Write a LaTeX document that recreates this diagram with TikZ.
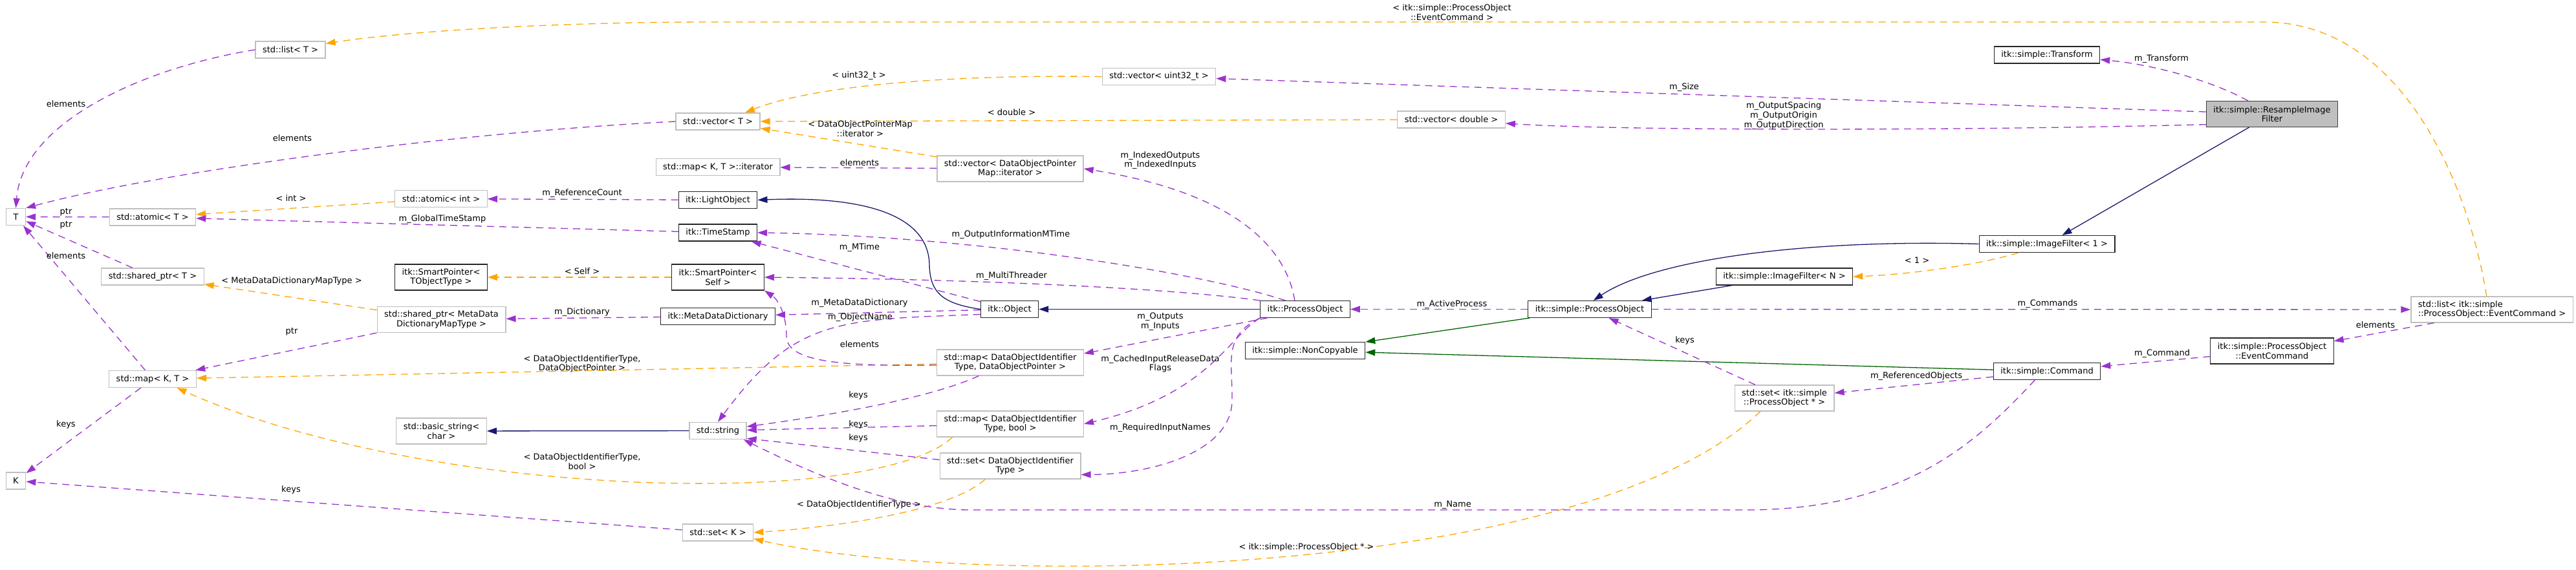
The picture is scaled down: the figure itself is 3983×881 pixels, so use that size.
\documentclass[tikz,border=0pt]{standalone}
\usepackage{fontspec}
\setmainfont{DejaVu Sans}
\usetikzlibrary{arrows.meta}
\definecolor{memcol}{HTML}{9A32CD}
\definecolor{tplcol}{HTML}{FFA500}
\definecolor{pubcol}{HTML}{191970}
\definecolor{protcol}{HTML}{006400}
\definecolor{tplbox}{HTML}{BFBFBF}
\definecolor{mainbox}{HTML}{404040}
\begin{document}
\begin{tikzpicture}[x=1pt,y=-1pt,
    every node/.style={font=\fontsize{13}{14.7}\selectfont},
    cls/.style={draw=black!85, fill=white, line width=1.1pt, inner xsep=11pt, inner ysep=3pt, minimum height=26pt, align=center},
    tpl/.style={cls, draw=tplbox, line width=1.3pt},
    two/.style={minimum height=40pt},
    lbl/.style={inner sep=0pt, align=center},
    mem/.style={draw=memcol, line width=1.3pt, dash pattern=on 11pt off 8pt, -{Triangle[length=15pt,width=10pt]}},
    tmpl/.style={mem, draw=tplcol},
    pub/.style={draw=pubcol, line width=1.3pt, -{Triangle[length=15pt,width=10pt]}},
    prot/.style={pub, draw=protcol}]
    \path[use as bounding box, fill=white] (0,0) rectangle (3983,881);

    \node[tpl] (T) at (24.5,335.5) {T};
    \node[tpl] (K) at (24.5,744) {K};
    \node[tpl] (listT) at (449,77) {std::list< T >};
    \node[tpl] (atomicT) at (236,336) {std::atomic< T >};
    \node[tpl] (sharedT) at (236,428) {std::shared\_ptr< T >};
    \node[tpl] (mapKT) at (236,586.5) {std::map< K, T >};
    \node[tpl] (atomicInt) at (682,307.5) {std::atomic< int >};
    \node[cls,two] (spTObj) at (682,429) {itk::SmartPointer<\\TObjectType >};
    \node[tpl,two] (sharedMeta) at (682.5,494.5) {std::shared\_ptr< MetaData\\DictionaryMapType >};
    \node[tpl,two] (basicStr) at (682.5,667) {std::basic\_string<\\char >};
    \node[tpl] (vecT) at (1110,188) {std::vector< T >};
    \node[tpl] (mapIter) at (1110,258.5) {std::map< K, T >::iterator};
    \node[cls] (lightObj) at (1110,309.5) {itk::LightObject};
    \node[cls] (timeStamp) at (1110,360) {itk::TimeStamp};
    \node[cls,two] (spSelf) at (1110,429) {itk::SmartPointer<\\Self >};
    \node[cls] (metaDict) at (1110,489.5) {itk::MetaDataDictionary};
    \node[tpl] (stdString) at (1110,666.5) {std::string};
    \node[tpl] (setK) at (1110,824) {std::set< K >};
    \node[tpl] (vecU32) at (1792,118.5) {std::vector< uint32\_t >};
    \node[tpl,two] (vecDOPM) at (1562,261) {std::vector< DataObjectPointer\\Map::iterator >};
    \node[cls] (itkObject) at (1561,478.5) {itk::Object};
    \node[tpl,two] (mapDOP) at (1562,561) {std::map< DataObjectIdentifier\\Type, DataObjectPointer >};
    \node[tpl,two] (mapBool) at (1562,656) {std::map< DataObjectIdentifier\\Type, bool >};
    \node[tpl,two] (setDOI) at (1562,721) {std::set< DataObjectIdentifier\\Type >};
    \node[tpl] (vecDouble) at (2244,185) {std::vector< double >};
    \node[cls] (itkPO) at (2018,478.5) {itk::ProcessObject};
    \node[cls] (nonCopy) at (2018,542.5) {itk::simple::NonCopyable};
    \node[cls] (simplePO) at (2458,478.5) {itk::simple::ProcessObject};
    \node[tpl,two] (setPO) at (2759,616) {std::set< itk::simple\\::ProcessObject * >};
    \node[cls] (filterN) at (2759,428) {itk::simple::ImageFilter< N >};
    \node[cls] (filter1) at (3165,377.5) {itk::simple::ImageFilter< 1 >};
    \node[cls] (transform) at (3165,85) {itk::simple::Transform};
    \node[cls] (command) at (3165,574.5) {itk::simple::Command};
    \node[cls,two,fill=tplbox,draw=mainbox] (resample) at (3513,176.5) {itk::simple::ResampleImage\\Filter};
    \node[cls,two] (eventCmd) at (3513,543) {itk::simple::ProcessObject\\::EventCommand};
    \node[tpl,two,align=left] (listEC) at (3853,479) {std::list< itk::simple\\::ProcessObject::EventCommand >};

    \draw[mem] (listT.west) .. controls (220,105) and (35,190) .. (T.north);
    \draw[mem] (vecT.west) .. controls (700,205) and (250,265) .. (T.north east);
    \draw[mem] (atomicT) -- (T);
    \draw[mem] (sharedT) -- (T);
    \draw[mem] (mapKT) -- (T);
    \draw[mem] (mapKT) -- (K);
    \draw[mem] (setK) -- (K);
    \draw[tmpl] (atomicInt) -- (atomicT);
    \draw[mem] (timeStamp) -- (atomicT);
    \draw[mem] (lightObj) -- (atomicInt);
    \draw[tmpl] (sharedMeta) -- (sharedT);
    \draw[mem] (sharedMeta) -- (mapKT);
    \draw[tmpl] (mapDOP) -- (mapKT);
    \draw[tmpl] (mapBool.193) .. controls (1350,790) and (650,770) .. (mapKT.340);
    \draw[tmpl] (spSelf) -- (spTObj);
    \draw[mem] (metaDict) -- (sharedMeta);
    \draw[pub] (stdString) -- (basicStr);
    \draw[tmpl] (setDOI.208) .. controls (1470,790) and (1300,815) .. (setK.east);
    \draw[tmpl] (setPO.209) .. controls (2450,900) and (1500,910) .. (setK.350);
    \draw[tmpl] (vecU32.west) .. controls (1450,115) and (1250,135) .. (vecT.18);
    \draw[tmpl] (vecDouble) -- (vecT);
    \draw[tmpl] (vecDOPM) -- (vecT);
    \draw[mem] (vecDOPM) -- (mapIter);
    \draw[pub] (itkObject.west) .. controls (1460,470) and (1438,455) .. (1437,410)
        .. controls (1436,330) and (1330,303) .. (lightObj.east);
    \draw[mem] (itkObject) -- (timeStamp);
    \draw[mem] (itkObject) -- (metaDict);
    \draw[mem] (itkObject.190) .. controls (1300,495) and (1230,490) .. (stdString.north);
    \draw[mem] (mapDOP.182) .. controls (1300,567) and (1216,560) .. (1216,520)
        .. controls (1216,490) and (1205,465) .. (spSelf.south east);
    \draw[pub] (itkPO) -- (itkObject);
    \draw[mem] (itkPO.156) .. controls (1850,420) and (1500,365) .. (timeStamp.east);
    \draw[mem] (itkPO.north west) .. controls (1800,445) and (1500,432) .. (spSelf.east);
    \draw[mem] (itkPO.140) .. controls (1990,390) and (1920,300) .. (vecDOPM.east);
    \draw[mem] (itkPO.193) -- (mapDOP.7);
    \draw[mem] (itkPO.191) .. controls (1900,520) and (1870,610) .. (mapBool.east);
    \draw[mem] (itkPO.191) .. controls (1890,520) and (1906,560) .. (1905,620)
        .. controls (1904,700) and (1780,734) .. (setDOI.353);
    \draw[mem] (simplePO) -- (itkPO);
    \draw[prot] (simplePO) -- (nonCopy);
    \draw[prot] (command) -- (nonCopy);
    \draw[pub] (filter1.west) .. controls (2800,370) and (2560,400) .. (simplePO.67);
    \draw[pub] (filterN) -- (simplePO);
    \draw[pub] (resample) -- (filter1);
    \draw[tmpl] (filter1.197) .. controls (3060,410) and (2950,425) .. (filterN.east);
    \draw[mem] (resample.151) .. controls (3420,125) and (3330,100) .. (transform.355);
    \draw[mem] (resample) -- (vecU32);
    \draw[mem] (resample.189) .. controls (3000,203) and (2500,202) .. (vecDouble.356);
    \draw[mem] (simplePO) -- (listEC);
    \draw[tmpl] (listEC.112) .. controls (3820,300) and (3720,34) .. (3500,34) -- (1100,34)
        .. controls (900,34) and (650,45) .. (listT.10);
    \draw[mem] (listEC.193) -- (eventCmd.9);
    \draw[mem] (eventCmd) -- (command);
    \draw[mem] (command) -- (setPO);
    \draw[mem] (setPO) -- (simplePO);
    \draw[mem] (command.216) .. controls (3060,680) and (2950,789) .. (2700,789) -- (1500,789)
        .. controls (1380,789) and (1250,730) .. (stdString.341);
    \draw[mem] (mapDOP.203) .. controls (1440,615) and (1300,640) .. (stdString.8);
    \draw[mem] (mapBool) -- (stdString);
    \draw[mem] (setDOI.175) -- (stdString.345);

    \node[lbl] (lbElem1) at (102,161) {elements};
    \node[lbl] (lbElem2) at (452,214) {elements};
    \node[lbl] (lbPtr1) at (102,328) {ptr};
    \node[lbl] (lbPtr2) at (102,348) {ptr};
    \node[lbl] (lbElem3) at (102,396) {elements};
    \node[lbl] (lbInt) at (450,307) {< int >};
    \node[lbl] (lbMapType) at (451,435) {< MetaDataDictionaryMapType >};
    \node[lbl] (lbGlobal) at (684,339) {m\_GlobalTimeStamp};
    \node[lbl] (lbRefCount) at (900,299) {m\_ReferenceCount};
    \node[lbl] (lbSelf) at (900,420) {< Self >};
    \node[lbl] (lbU32) at (1328,117) {< uint32\_t >};
    \node[lbl] (lbIter) at (1330,199) {< DataObjectPointerMap\\::iterator >};
    \node[lbl] (lbElem4) at (1329,252) {elements};
    \node[lbl] (lbMTime) at (1329,383) {m\_MTime};
    \node[lbl] (lbDouble) at (1564,174) {< double >};
    \node[lbl] (lbIndexed) at (1794,248) {m\_IndexedOutputs\\m\_IndexedInputs};
    \node[lbl] (lbOutInfo) at (1563,363) {m\_OutputInformationMTime};
    \node[lbl] (lbThreader) at (1564,427) {m\_MultiThreader};
    \node[lbl] (lbEvCmd) at (2245,19) {< itk::simple::ProcessObject\\::EventCommand >};
    \node[lbl] (lbSize) at (2604,135) {m\_Size};
    \node[lbl] (lbOutput) at (2758,179) {m\_OutputSpacing\\m\_OutputOrigin\\m\_OutputDirection};
    \node[lbl] (lbOne) at (2964,403) {< 1 >};
    \node[lbl] (lbTransform) at (3342,91) {m\_Transform};
    \node[lbl] (lbPtr3) at (451,513) {ptr};
    \node[lbl] (lbKeys1) at (102,657) {keys};
    \node[lbl] (lbKeys2) at (450,758) {keys};
    \node[lbl] (lbDict) at (900,483) {m\_Dictionary};
    \node[lbl] (lbDOP) at (900,563) {< DataObjectIdentifierType,\\DataObjectPointer >};
    \node[lbl] (lbBool) at (900,714) {< DataObjectIdentifierType,\\bool >};
    \node[lbl] (lbDOI) at (1328,781) {< DataObjectIdentifierType >};
    \node[lbl] (lbMetaDict) at (1329,469) {m\_MetaDataDictionary};
    \node[lbl] (lbObjName) at (1330,491) {m\_ObjectName};
    \node[lbl] (lbElem5) at (1329,533) {elements};
    \node[lbl] (lbKeys3) at (1327,612) {keys};
    \node[lbl] (lbKeys4) at (1327,657) {keys};
    \node[lbl] (lbKeys5) at (1327,678) {keys};
    \node[lbl] (lbOutputs) at (1794,498) {m\_Outputs\\m\_Inputs};
    \node[lbl] (lbCached) at (1794,563) {m\_CachedInputReleaseData\\Flags};
    \node[lbl] (lbRequired) at (1794,662) {m\_RequiredInputNames};
    \node[lbl] (lbPOStar) at (2020,847) {< itk::simple::ProcessObject * >};
    \node[lbl] (lbActive) at (2245,471) {m\_ActiveProcess};
    \node[lbl] (lbKeys6) at (2605,527) {keys};
    \node[lbl] (lbName) at (2246,781) {m\_Name};
    \node[lbl] (lbCommands) at (3166,470) {m\_Commands};
    \node[lbl] (lbRefObj) at (2963,582) {m\_ReferencedObjects};
    \node[lbl] (lbElem6) at (3673,503) {elements};
    \node[lbl] (lbCommand) at (3343,547) {m\_Command};
\end{tikzpicture}
\end{document}
